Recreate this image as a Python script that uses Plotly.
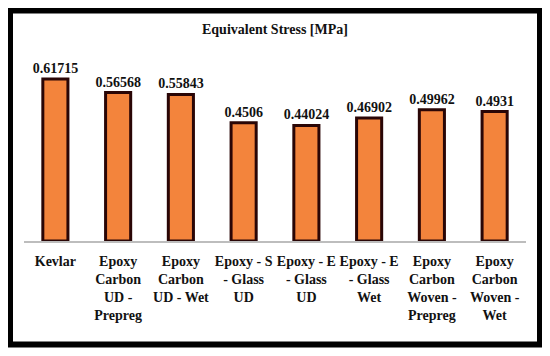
import plotly.graph_objects as go

categories = ["Kevlar", "Epoxy Carbon UD - Prepreg", "Epoxy Carbon UD - Wet",
              "Epoxy - S - Glass UD", "Epoxy - E - Glass UD", "Epoxy - E - Glass Wet",
              "Epoxy Carbon Woven - Prepreg", "Epoxy Carbon Woven - Wet"]
tick_labels = ["Kevlar", "Epoxy<br>Carbon<br>UD -<br>Prepreg", "Epoxy<br>Carbon<br>UD - Wet",
               "Epoxy - S<br>- Glass<br>UD", "Epoxy - E<br>- Glass<br>UD", "Epoxy - E<br>- Glass<br>Wet",
               "Epoxy<br>Carbon<br>Woven -<br>Prepreg", "Epoxy<br>Carbon<br>Woven -<br>Wet"]
values = [0.61715, 0.56568, 0.55843, 0.4506, 0.44024, 0.46902, 0.49962, 0.4931]
value_labels = ["0.61715", "0.56568", "0.55843", "0.4506", "0.44024", "0.46902", "0.49962", "0.4931"]
title = "Equivalent Stress [MPa]"

FONT = "Palatino Linotype, Book Antiqua, Palatino, Liberation Serif, serif"

fig = go.Figure(go.Bar(
    x=categories, y=values, width=0.4,
    marker=dict(color="#F3843C", line=dict(color="#2a0606", width=3)),
    text=["<b>" + t + "</b>" for t in value_labels], textposition="outside",
    cliponaxis=False, constraintext="none",
    textfont=dict(family=FONT, size=14, color="#111111"),
))

# page has an 8px body margin; work in page pixels and shift
OFF = 8
W, H = 550 - OFF, 356 - OFF
L = 24 - OFF
R = W - (526 - OFF)
T = 60 - OFF
B = H - (241 - OFF)
pw, ph = W - L - R, H - T - B

def px_x(v):
    return (v - OFF - L) / pw

def px_y(v):
    return (H - B - (v - OFF)) / ph

fig.update_layout(
    width=W, height=H, margin=dict(l=L, r=R, t=T, b=B, autoexpand=False),
    paper_bgcolor="white", plot_bgcolor="white", showlegend=False,
    font=dict(family=FONT, size=14, color="#111111"),
    xaxis=dict(tickmode="array", tickvals=categories,
               ticktext=["<b>" + t + "</b>" for t in tick_labels],
               showline=True, linecolor="#bdbdbd", linewidth=1.5, ticks="",
               automargin=False, ticklabelstandoff=6,
               showgrid=False, tickfont=dict(family=FONT, size=14, color="#111111")),
    yaxis=dict(range=[0, ph / 262.5], visible=False, showgrid=False, automargin=False),
    annotations=[dict(text="<b>" + title + "</b>", xref="paper", yref="paper",
                      x=px_x(275), y=px_y(30), xanchor="center", yanchor="middle",
                      showarrow=False, font=dict(family=FONT, size=14, color="#111111"))],
    shapes=[dict(type="rect", xref="paper", yref="paper",
                 x0=px_x(10), x1=px_x(540), y0=px_y(344.5), y1=px_y(10.5),
                 line=dict(color="black", width=6))],
)

fig.write_html("out.html")
